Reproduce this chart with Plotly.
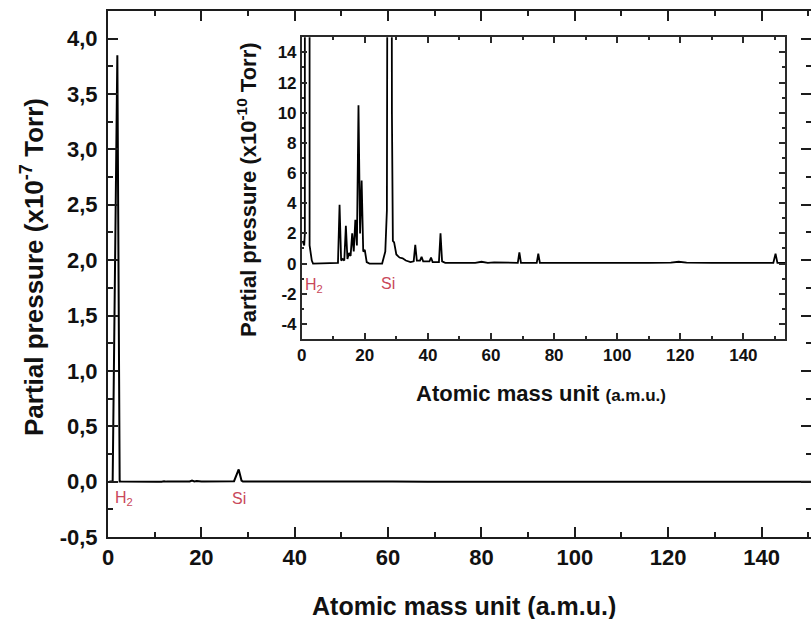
import plotly.graph_objects as go

# Mass spectrum (atomic mass units) and partial pressure in units of 1e-10 Torr
mass_amu = [0.3, 0.8, 1.0, 2.0, 2.5, 2.8, 3.2, 3.6,
            10.5, 11.5, 12.0, 12.5, 13.0, 13.5, 14.0, 14.5, 15.0, 15.5, 16.0, 16.5,
            17.0, 17.5, 18.0, 18.5, 19.0, 19.5, 20.0, 20.6, 21.5,
            25.5, 26.5, 27.0, 28.0, 28.6, 28.9, 29.3, 30.0, 31.0, 32.0, 33.0, 34.5,
            35.5, 36.0, 36.5, 37.5, 38.0, 38.5, 40.5, 41.0, 41.5, 43.5, 44.0, 44.5, 45.5,
            55.0, 57.0, 59.0, 61.0, 68.5, 69.0, 69.5, 74.5, 75.0, 75.5,
            80.0, 90.0, 100.0, 110.0, 117.0, 119.5, 122.0, 130.0, 140.0,
            149.5, 150.2, 150.8, 153.2]
pressure_e10 = [1.5, 1.2, 2.0, 3850.0, 1.2, 0.6, 0.2, 0.0,
                0.0, 0.05, 3.9, 0.2, 0.3, 0.2, 2.5, 0.3, 0.7, 0.5, 2.0, 0.8,
                2.9, 1.2, 10.5, 2.0, 5.5, 0.8, 0.9, 0.1, 0.0,
                0.0, 0.8, 3.5, 110.0, 10.0, 1.5, 1.4, 0.6, 0.4, 0.35, 0.2, 0.1,
                0.15, 1.25, 0.2, 0.2, 0.45, 0.15, 0.15, 0.4, 0.1, 0.1, 2.0, 0.15, 0.05,
                0.05, 0.12, 0.05, 0.08, 0.05, 0.75, 0.05, 0.05, 0.65, 0.05,
                0.05, 0.03, 0.05, 0.05, 0.06, 0.12, 0.06, 0.05, 0.05,
                0.05, 0.65, 0.05, 0.05]
# same spectrum in units of 1e-7 Torr for the main panel
pressure_e7 = [p / 1000.0 for p in pressure_e10]

main_x_dtick, main_x_minor = 20, 10
main_y_ticks = [-0.5, 0.0, 0.5, 1.0, 1.5, 2.0, 2.5, 3.0, 3.5, 4.0]
main_y_labels = ["-0,5", "0,0", "0,5", "1,0", "1,5", "2,0", "2,5", "3,0", "3,5", "4,0"]
main_y_minor = 0.25
inset_x_dtick, inset_x_minor = 20, 10
inset_y_ticks = [-4, -2, 0, 2, 4, 6, 8, 10, 12, 14]
inset_y_labels = ["-4", "-2", "0", "2", "4", "6", "8", "10", "12", "14"]
inset_y_minor = 1

MAIN_X = [0, 150.6]
MAIN_Y = [-0.5, 4.25]
INS_X = [0, 153.2]
INS_Y = [-5, 15]

FONT = "Liberation Sans, Arial, sans-serif"
AX = "#1c1c1c"
AX2 = "#2a2a2a"
RED = "#c9485b"

fig = go.Figure()
fig.add_trace(go.Scatter(x=mass_amu, y=pressure_e7, mode="lines",
                         line=dict(color="black", width=2), xaxis="x", yaxis="y",
                         showlegend=False, hoverinfo="skip"))
fig.add_trace(go.Scatter(x=mass_amu, y=pressure_e10, mode="lines",
                         line=dict(color="black", width=1.8), xaxis="x2", yaxis="y2",
                         showlegend=False, hoverinfo="skip"))
# invisible carriers so the minor-tick overlay axes get drawn
fig.add_trace(go.Scatter(x=mass_amu, y=pressure_e7, mode="lines", opacity=0,
                         line=dict(width=0), xaxis="x3", yaxis="y3",
                         showlegend=False, hoverinfo="skip"))
fig.add_trace(go.Scatter(x=mass_amu, y=pressure_e10, mode="lines", opacity=0,
                         line=dict(width=0), xaxis="x4", yaxis="y4",
                         showlegend=False, hoverinfo="skip"))

L, T, R, B = 108, 11, 0, 82
W, H = 811, 619
pw, ph = W - L - R, H - T - B


def px2paper(px, py):
    return (px - L) / pw, (H - B - py) / ph


ix0, iy0 = px2paper(301.7, 339)
ix1, iy1 = px2paper(785, 37.3)

base_main = dict(showline=True, linewidth=2, linecolor=AX, mirror="ticks",
                 ticks="inside", tickwidth=2, tickcolor=AX,
                 showgrid=False, zeroline=False, automargin=False)
base_ins = dict(showline=True, linewidth=1.5, linecolor=AX2, mirror="ticks",
                ticks="inside", tickwidth=1.5, tickcolor=AX2,
                showgrid=False, zeroline=False, automargin=False)

fig.update_layout(
    template="none",
    width=W, height=H,
    margin=dict(l=L, r=R, t=T, b=B, pad=0),
    paper_bgcolor="white", plot_bgcolor="white",
    xaxis=dict(range=MAIN_X, tickmode="linear", tick0=0, dtick=main_x_dtick, ticklen=10,
               tickfont=dict(family=FONT, size=22, color="#111", weight="bold"), **base_main),
    yaxis=dict(range=MAIN_Y, tickmode="array", tickvals=main_y_ticks, ticktext=main_y_labels,
               ticklen=10, ticklabelstandoff=4,
               tickfont=dict(family=FONT, size=22, color="#111", weight="bold"), **base_main),
    # minor tick overlays for the main panel
    xaxis3=dict(overlaying="x", anchor="y", range=MAIN_X, tickmode="linear", tick0=0,
                dtick=main_x_minor, ticklen=5, showticklabels=False, **base_main),
    yaxis3=dict(overlaying="y", anchor="x", range=MAIN_Y, tickmode="linear", tick0=0,
                dtick=main_y_minor, ticklen=5, showticklabels=False, **base_main),
    xaxis2=dict(domain=[ix0, ix1], anchor="y2", range=INS_X, tickmode="linear", tick0=0,
                dtick=inset_x_dtick, ticklen=6,
                tickfont=dict(family=FONT, size=17, color="#111", weight="bold"), **base_ins),
    yaxis2=dict(domain=[iy0, iy1], anchor="x2", range=INS_Y, tickmode="array",
                tickvals=inset_y_ticks, ticktext=inset_y_labels, ticklen=6,
                tickfont=dict(family=FONT, size=17, color="#111", weight="bold"), **base_ins),
    # minor tick overlays for the inset
    xaxis4=dict(overlaying="x2", anchor="y2", range=INS_X, tickmode="linear", tick0=0,
                dtick=inset_x_minor, ticklen=3, showticklabels=False, **base_ins),
    yaxis4=dict(overlaying="y2", anchor="x2", range=INS_Y, tickmode="linear", tick0=0,
                dtick=inset_y_minor, ticklen=3, showticklabels=False, **base_ins),
)

ann = []
x, y = px2paper(32, 267)
ann.append(dict(x=x, y=y, xref="paper", yref="paper", xanchor="center", yanchor="middle",
                textangle=-90, showarrow=False,
                text="Partial pressure (x10<sup>-7</sup> Torr)",
                font=dict(family=FONT, size=26, color="#111", weight="bold")))
x, y = px2paper(464, 606)
ann.append(dict(x=x, y=y, xref="paper", yref="paper", xanchor="center", yanchor="middle",
                showarrow=False, text="Atomic mass unit (a.m.u.)",
                font=dict(family=FONT, size=25, color="#111", weight="bold")))
x, y = px2paper(247, 190)
ann.append(dict(x=x, y=y, xref="paper", yref="paper", xanchor="center", yanchor="middle",
                textangle=-90, showarrow=False,
                text="Partial pressure (x10<sup>-10</sup> Torr)",
                font=dict(family=FONT, size=22, color="#111", weight="bold")))
x, y = px2paper(541, 393)
ann.append(dict(x=x, y=y, xref="paper", yref="paper", xanchor="center", yanchor="middle",
                showarrow=False,
                text="Atomic mass unit <span style='font-size:17px'>(a.m.u.)</span>",
                font=dict(family=FONT, size=22, color="#111", weight="bold")))
ann.append(dict(x=1.0, y=-0.15, xref="x", yref="y", xanchor="left", yanchor="middle",
                showarrow=False, text="H<sub>2</sub>", font=dict(family=FONT, size=16, color=RED)))
ann.append(dict(x=28.1, y=-0.15, xref="x", yref="y", xanchor="center", yanchor="middle",
                showarrow=False, text="Si", font=dict(family=FONT, size=16, color=RED)))
ann.append(dict(x=0.4, y=-1.45, xref="x2", yref="y2", xanchor="left", yanchor="middle",
                showarrow=False, text="H<sub>2</sub>", font=dict(family=FONT, size=16, color=RED)))
ann.append(dict(x=27.2, y=-1.3, xref="x2", yref="y2", xanchor="center", yanchor="middle",
                showarrow=False, text="Si", font=dict(family=FONT, size=16, color=RED)))
fig.update_layout(annotations=ann)

fig.write_html("out.html", config={"displayModeBar": False},
               post_script="document.body.style.margin='0';")
